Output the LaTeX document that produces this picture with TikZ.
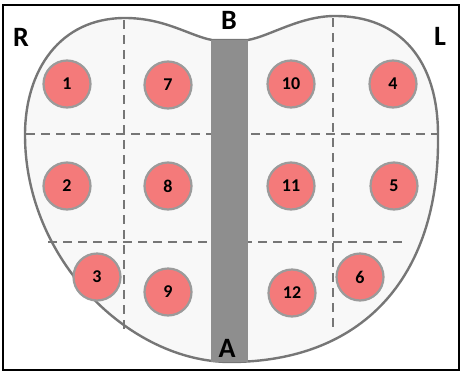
\documentclass[tikz,border=0pt]{standalone}
\usepackage{fontspec}
\setmainfont{Carlito}
\usetikzlibrary{positioning}

\definecolor{rimgray}{RGB}{118,118,118}
\definecolor{tonguefill}{RGB}{248,248,248}
\definecolor{stripgray}{RGB}{142,142,142}
\definecolor{spotred}{RGB}{244,122,122}
\definecolor{spotrim}{RGB}{155,155,155}

\begin{document}
\begin{tikzpicture}[x=1pt,y=-1pt,
    spot/.style={circle,draw=spotrim,line width=2.2pt,fill=spotred,minimum size=47pt,inner sep=0pt,font=\fontsize{18}{18}\selectfont\bfseries},
    side/.style={font=\fontsize{28}{28}\selectfont\bfseries,inner sep=0pt},
    grid/.style={rimgray,line width=2.2pt,dash pattern=on 9pt off 6pt}]
    \useasboundingbox (0,0) rectangle (465,372);

    % Frame
    \draw[line width=1.3pt] (3,5) rectangle (459,370);

    % Tongue outline
    \draw[rimgray,line width=2.4pt,fill=tonguefill]
        (212,40) .. controls (190,36) and (165,18) .. (125,18)
        .. controls (60,18) and (25,70) .. (25,135)
        .. controls (25,260) and (130,362) .. (230,362)
        .. controls (360,362) and (440,280) .. (438,135)
        .. controls (438,60) and (400,16) .. (335,16)
        .. controls (300,16) and (270,36) .. (248,40) -- cycle;

    % Quadrant lines
    \draw[grid] (124,20) -- (124,330);
    \draw[grid] (333,18) -- (333,330);
    \draw[grid] (26,134) -- (437,134);
    \draw[grid] (48,242) -- (404,242);

    % Midline
    \fill[stripgray] (211,40) rectangle (248,362);

    % Spots, right half
    \node[spot] (c1) at (67,84) {1};
    \node[spot] (c2) at (67,186) {2};
    \node[spot] (c3) at (97,277) {3};
    \node[spot] (c7) at (168,85) {7};
    \node[spot] (c8) at (168,186) {8};
    \node[spot] (c9) at (168,292) {9};

    % Spots, left half
    \node[spot] (c10) at (291,84) {10};
    \node[spot] (c11) at (291,186) {11};
    \node[spot] (c12) at (292,293) {12};
    \node[spot] (c4) at (393,84) {4};
    \node[spot] (c5) at (394,186) {5};
    \node[spot] (c6) at (360,277) {6};

    % Sides
    \node[side] (r) at (21,37) {R};
    \node[side] (b) at (229,20) {B};
    \node[side] (l) at (440,36) {L};
    \node[side] (a) at (227,348) {A};
\end{tikzpicture}
\end{document}
